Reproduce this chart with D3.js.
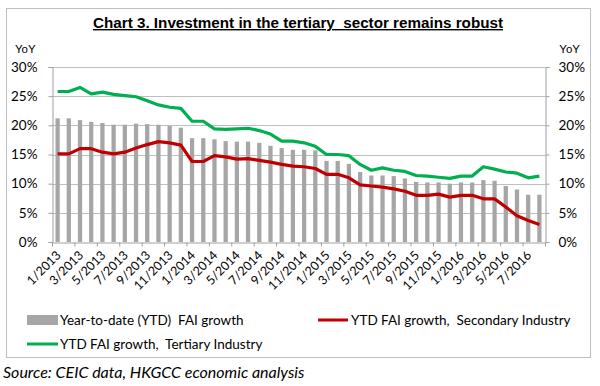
<!DOCTYPE html>
<html><head><meta charset="utf-8">
<script src="https://cdn.jsdelivr.net/npm/d3@7"></script>
<style>
html,body{margin:0;padding:0;background:#fff;}
svg{display:block;}
svg text{white-space:pre;}
</style></head>
<body>
<svg id="c" width="600" height="386"></svg>
<script>
const months = [];
for (let y = 2013; y <= 2016; y++) for (let m = 1; m <= 12; m++) { if (y === 2016 && m > 8) break; months.push(m + "/" + y); }
const ytdFAI = [21.2,21.2,20.9,20.6,20.4,20.1,20.1,20.3,20.2,20.1,19.9,19.6,
  17.8,17.8,17.6,17.3,17.2,17.2,17.0,16.5,16.1,15.8,15.8,15.7,
  13.9,13.9,13.4,12.0,11.4,11.4,11.3,10.9,10.3,10.2,10.2,10.0,
  10.2,10.2,10.6,10.5,9.6,9.0,8.1,8.1];
const secondary = [15.1,15.1,16.0,16.0,15.4,15.1,15.4,16.1,16.7,17.2,17.0,16.6,
  13.8,13.8,14.8,14.6,14.2,14.3,14.0,13.7,13.3,13.0,12.9,12.6,
  11.6,11.6,11.0,9.8,9.6,9.4,9.1,8.7,8.0,8.0,8.2,7.7,
  8.0,8.0,7.4,7.4,6.0,4.5,3.7,3.0];
const tertiary = [25.8,25.8,26.5,25.4,25.7,25.3,25.1,24.9,24.2,23.5,23.1,22.9,
  20.7,20.7,19.4,19.3,19.4,19.5,19.1,18.5,17.3,17.3,17.0,16.4,
  15.0,15.0,14.8,13.3,12.3,12.7,12.3,12.1,11.4,11.3,11.1,10.9,
  11.3,11.3,12.9,12.5,12.0,11.8,11.0,11.3];
const yTicks = [0,5,10,15,20,25,30];
const titleText = "Chart 3. Investment in the tertiary  sector remains robust";
const legendLabels = ["Year-to-date (YTD)  FAI growth", "YTD FAI growth,  Secondary Industry", "YTD FAI growth,  Tertiary Industry"];
const sourceText = "Source: CEIC data, HKGCC economic analysis";

const svg = d3.select("#c");
const L = 52, R = 545, T = 67, B = 242;
const body = "Lato, 'Open Sans', sans-serif";

// border
svg.append("rect").attr("x", 6.5).attr("y", 8.5).attr("width", 584).attr("height", 349)
  .attr("fill", "#fff").attr("stroke", "#bfbfbf").attr("stroke-width", 1);

// title
svg.append("text").attr("x", 298).attr("y", 28).attr("text-anchor", "middle")
  .attr("font-family", "'Liberation Sans', Arial, sans-serif").attr("font-weight", "bold")
  .attr("font-size", 14).attr("text-decoration", "underline")
  .attr("textLength", 410).attr("lengthAdjust", "spacingAndGlyphs")
  .attr("fill", "#000").text(titleText);

const y = d3.scaleLinear().domain([0, 30]).range([B, T]);
const xb = d3.scaleBand().domain(d3.range(months.length)).range([L, R]).paddingInner(0.62).paddingOuter(0.31);
const xi = d3.scaleLinear().domain([0, months.length]).range([L, R]);
const cx = i => xb(i) + xb.bandwidth() / 2;

// gridlines
svg.append("g").selectAll("line").data(yTicks.filter(d => d > 0)).join("line")
  .attr("x1", L).attr("x2", R).attr("y1", d => Math.round(y(d)) + 0.5).attr("y2", d => Math.round(y(d)) + 0.5)
  .attr("stroke", "#bfbfbf").attr("stroke-width", 1);

// bars
svg.append("g").selectAll("rect").data(ytdFAI).join("rect")
  .attr("x", (d, i) => xb(i)).attr("width", xb.bandwidth())
  .attr("y", d => y(d)).attr("height", d => B - y(d)).attr("fill", "#a6a6a6");

// axes
const yl = svg.append("g").attr("transform", `translate(${L + 0.5},0)`)
  .call(d3.axisLeft(y).tickValues(yTicks).tickFormat(d => d + "%").tickSize(4).tickPadding(11));
const yr = svg.append("g").attr("transform", `translate(${R + 0.5},0)`)
  .call(d3.axisRight(y).tickValues(yTicks).tickFormat(d => d + "%").tickSize(4).tickPadding(9));
const xa = svg.append("g").attr("transform", `translate(0,${B + 0.5})`)
  .call(d3.axisBottom(xi).tickValues(d3.range(0, months.length + 1, 2)).tickFormat("").tickSize(4).tickSizeOuter(0));
[yl, yr, xa].forEach(g => {
  g.selectAll("path,line").attr("stroke", "#a0a0a0");
  g.selectAll("text").attr("font-family", body).attr("font-size", 13.5).attr("fill", "#000");
});

// x labels
svg.append("g").selectAll("text").data(months.map((m, i) => ({ m, i })).filter(d => d.i % 2 === 0)).join("text")
  .attr("transform", d => `translate(${cx(d.i) + 4},${B + 14}) rotate(-45)`)
  .attr("text-anchor", "end").attr("font-family", body).attr("font-size", 12.5).attr("fill", "#000")
  .text(d => d.m);

// lines
const line = d3.line().x((d, i) => cx(i)).y(d => y(d));
svg.append("path").datum(secondary).attr("d", line).attr("fill", "none")
  .attr("stroke", "#c00000").attr("stroke-width", 3.2).attr("stroke-linejoin", "round");
svg.append("path").datum(tertiary).attr("d", line).attr("fill", "none")
  .attr("stroke", "#00b050").attr("stroke-width", 3.2).attr("stroke-linejoin", "round");

// YoY
[[15, "start"], [580, "end"]].forEach(([x, a]) => svg.append("text").attr("x", x).attr("y", 53)
  .attr("text-anchor", a).attr("font-family", "'Liberation Sans', Arial, sans-serif").attr("font-size", 11.5)
  .attr("fill", "#000").text("YoY"));

// legend
const lg = svg.append("g").attr("font-family", body).attr("font-size", 13.5).attr("fill", "#000");
lg.append("rect").attr("x", 27).attr("y", 315).attr("width", 31).attr("height", 10).attr("fill", "#a6a6a6");
lg.append("text").attr("x", 60).attr("y", 324.5).text(legendLabels[0]);
lg.append("line").attr("x1", 318).attr("x2", 348).attr("y1", 320).attr("y2", 320).attr("stroke", "#c00000").attr("stroke-width", 3);
lg.append("text").attr("x", 351).attr("y", 324.5).text(legendLabels[1]);
lg.append("line").attr("x1", 27).attr("x2", 58).attr("y1", 344).attr("y2", 344).attr("stroke", "#00b050").attr("stroke-width", 3);
lg.append("text").attr("x", 60).attr("y", 348.5).text(legendLabels[2]);

// source
svg.append("text").attr("x", 3).attr("y", 378).attr("font-family", body).attr("font-style", "italic")
  .attr("font-size", 16).attr("fill", "#000").text(sourceText);
</script>
</body></html>
